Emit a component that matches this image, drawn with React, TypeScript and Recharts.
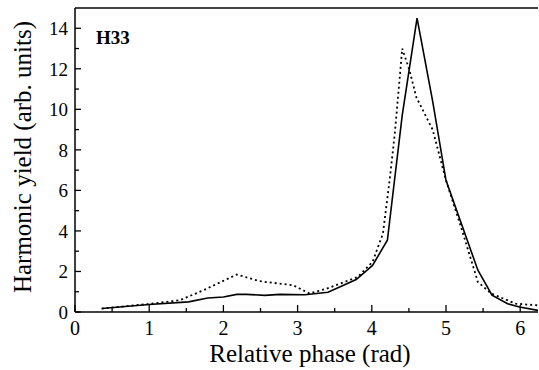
import { LineChart, Line, XAxis, YAxis, ReferenceLine } from 'recharts';

// solid curve
const solidPhase = [0.36, 1.0, 1.53, 1.79, 2.0, 2.18, 2.31, 2.56, 2.76, 3.1, 3.41, 3.79, 4.01, 4.21, 4.41, 4.61, 4.82, 5.0, 5.43, 5.62, 5.83, 5.99, 6.24];
const solidYield = [0.17, 0.37, 0.5, 0.69, 0.74, 0.87, 0.87, 0.82, 0.87, 0.85, 0.97, 1.6, 2.3, 3.54, 9.7, 14.5, 10.4, 6.5, 2.06, 0.83, 0.41, 0.25, 0.08];

// dotted curve
const dottedPhase = [0.36, 1.01, 1.41, 1.73, 2.18, 2.49, 2.94, 3.16, 3.39, 3.81, 4.01, 4.15, 4.24, 4.31, 4.37, 4.41, 4.51, 4.6, 4.82, 5.0, 5.23, 5.43, 5.61, 5.94, 6.24];
const dottedYield = [0.17, 0.4, 0.58, 1.07, 1.85, 1.52, 1.32, 0.91, 1.15, 1.73, 2.47, 3.87, 6.5, 8.8, 11.3, 13.0, 11.9, 10.6, 9.0, 6.5, 3.87, 1.48, 0.91, 0.41, 0.33];

const xTicks = [0, 0.5, 1, 1.5, 2, 2.5, 3, 3.5, 4, 4.5, 5, 5.5, 6];
const yTicks = [0, 1, 2, 3, 4, 5, 6, 7, 8, 9, 10, 11, 12, 13, 14];

const solidData = solidPhase.map((x, i) => ({ x, y: solidYield[i] }));
const dottedData = dottedPhase.map((x, i) => ({ x, y: dottedYield[i] }));

const FONT = 'Liberation Serif';

const XTick = (props: any) => {
  const { x, y, payload } = props;
  const major = Number.isInteger(payload.value);
  return (
    <g>
      <line x1={x} y1={y} x2={x} y2={y - (major ? 7 : 4)} stroke="#000" strokeWidth={1.3} />
      {major && (
        <text x={x} y={y + 23} textAnchor="middle" fontSize={20} fontFamily={FONT} fill="#000">
          {payload.value}
        </text>
      )}
    </g>
  );
};

const YTick = (props: any) => {
  const { x, y, payload } = props;
  const major = payload.value % 2 === 0;
  return (
    <g>
      <line x1={x} y1={y} x2={x + (major ? 6 : 4)} y2={y} stroke="#000" strokeWidth={1.3} />
      {major && (
        <text x={x - 7} y={y + 7} textAnchor="end" fontSize={19} fontFamily={FONT} fill="#000">
          {payload.value}
        </text>
      )}
    </g>
  );
};

export default function App() {
  return (
    <div style={{ position: 'absolute', left: 0, top: 0, width: 539, height: 370, background: '#fff' }}>
      <LineChart width={539} height={370} margin={{ top: 8, right: 1, bottom: 0, left: 0 }}>
        <XAxis
          type="number"
          dataKey="x"
          domain={[0, 6.24]}
          ticks={xTicks}
          interval={0}
          tickSize={0}
          tickMargin={0}
          tickLine={false}
          axisLine={{ stroke: '#000', strokeWidth: 1.5 }}
          tick={<XTick />}
          height={58}
          allowDataOverflow
          label={{
            content: () => (
              <text x={310} y={362} textAnchor="middle" fontSize={25} fontFamily={FONT} fill="#000">
                Relative phase (rad)
              </text>
            ),
          }}
        />
        <YAxis
          type="number"
          domain={[0, 15]}
          ticks={yTicks}
          interval={0}
          tickSize={0}
          tickMargin={0}
          tickLine={false}
          axisLine={{ stroke: '#000', strokeWidth: 1.5 }}
          tick={<YTick />}
          width={75}
          allowDataOverflow
          label={{
            content: () => (
              <text
                x={22}
                y={157}
                transform="rotate(-90 22 157)"
                textAnchor="middle"
                dominantBaseline="central"
                fontSize={25}
                fontFamily={FONT}
                fill="#000"
              >
                Harmonic yield (arb. units)
              </text>
            ),
          }}
        />
        <ReferenceLine y={15} stroke="#000" strokeWidth={1.5} />
        <Line
          data={dottedData}
          dataKey="y"
          type="linear"
          stroke="#000"
          strokeWidth={1.8}
          strokeDasharray="2 3"
          dot={false}
          isAnimationActive={false}
        />
        <Line
          data={solidData}
          dataKey="y"
          type="linear"
          stroke="#000"
          strokeWidth={1.6}
          dot={false}
          isAnimationActive={false}
        />
      </LineChart>
      <div
        style={{
          position: 'absolute',
          left: 96,
          top: 27,
          fontFamily: FONT,
          fontWeight: 'bold',
          fontSize: 19,
          lineHeight: '22px',
          color: '#000',
        }}
      >
        H33
      </div>
    </div>
  );
}
